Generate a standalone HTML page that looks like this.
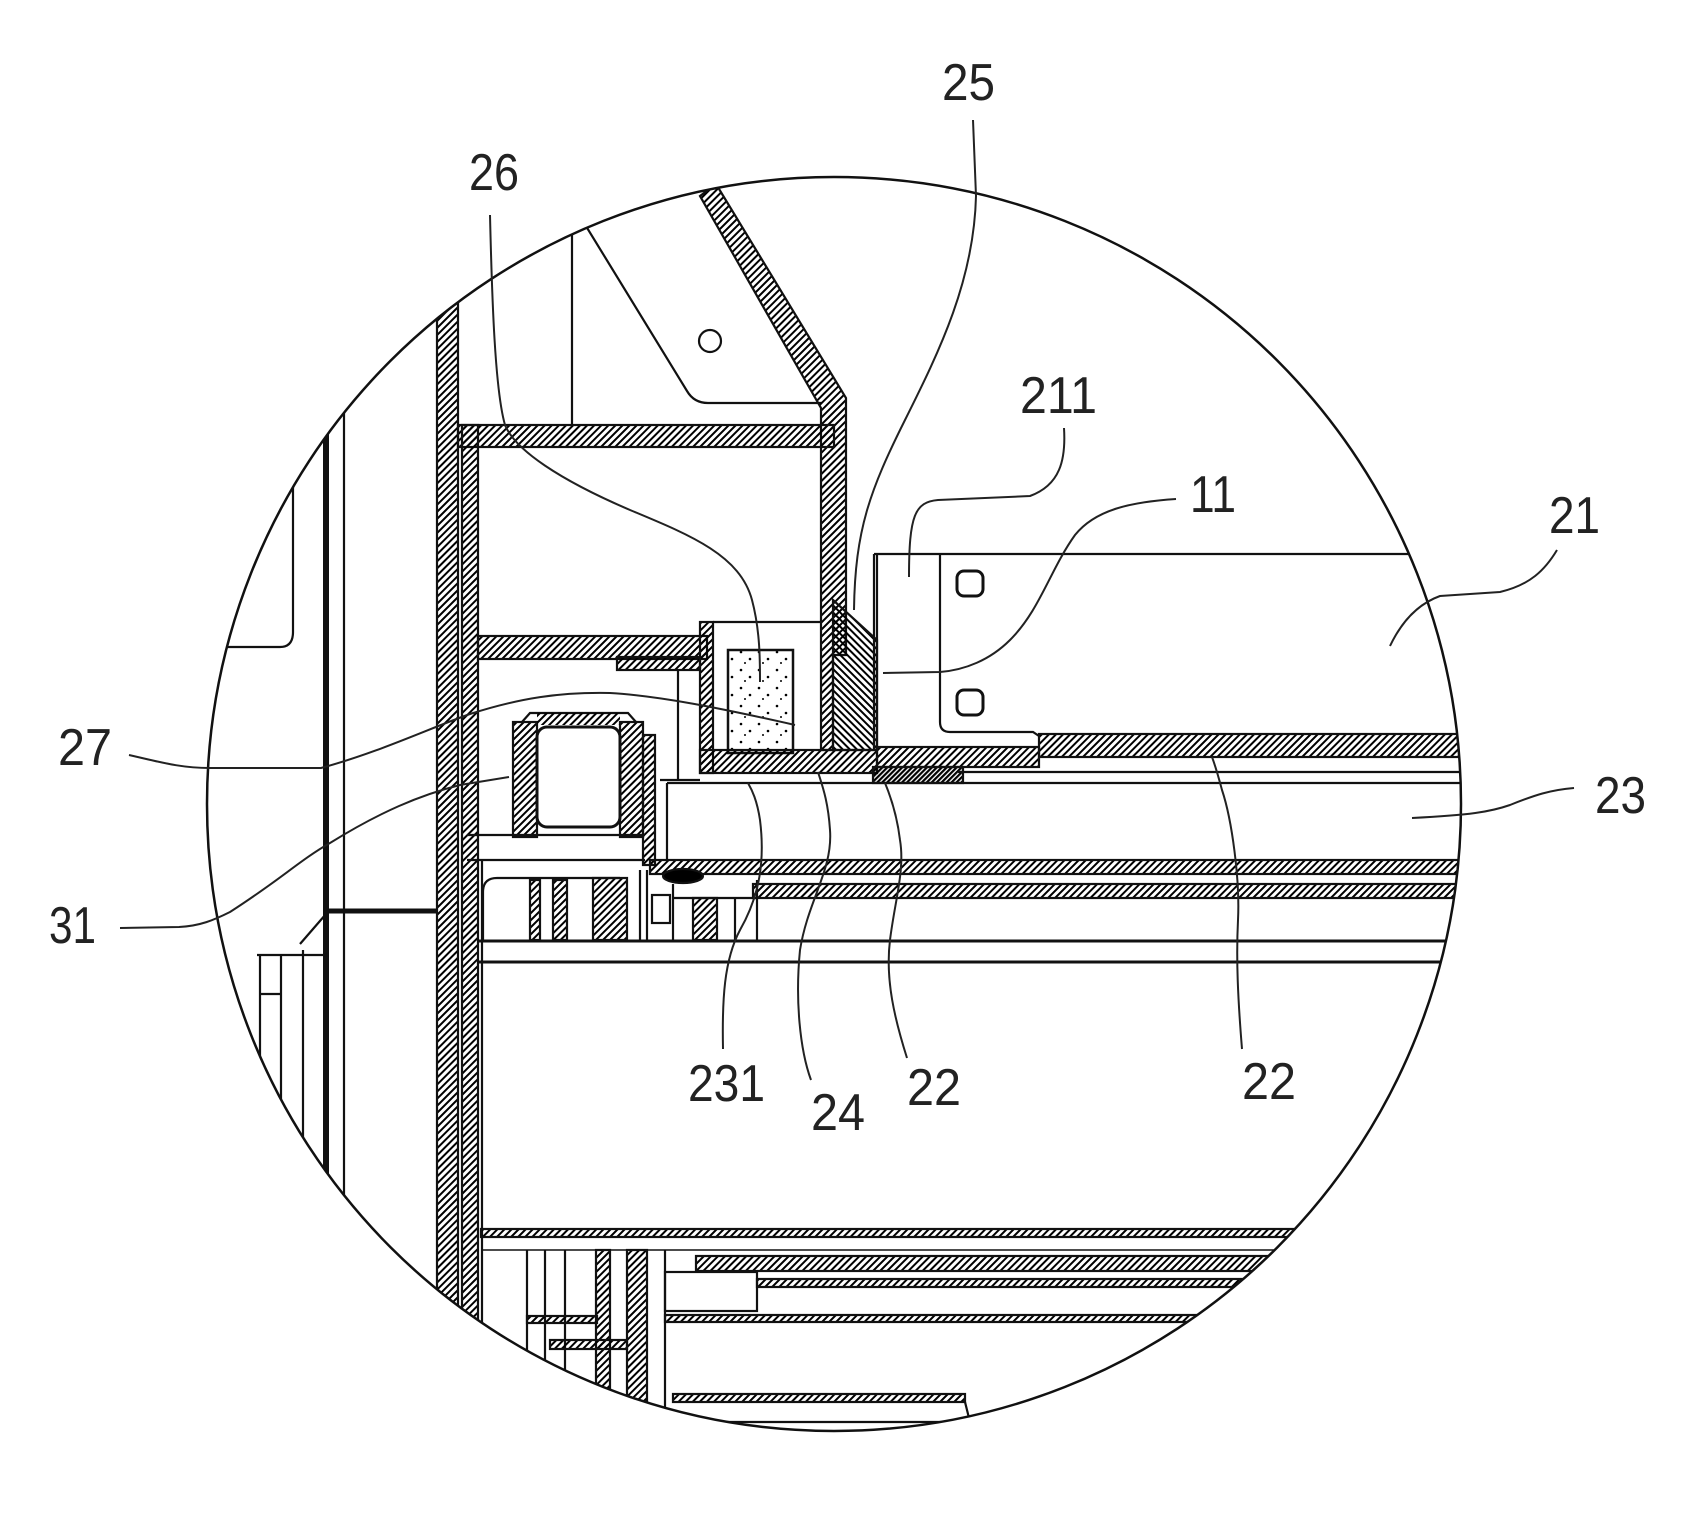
<!DOCTYPE html>
<html>
<head>
<meta charset="utf-8">
<style>
html,body{margin:0;padding:0;background:#fff;}
svg{display:block;}
text{font-family:"Liberation Sans",sans-serif;font-size:52px;fill:#222;}
</style>
</head>
<body>
<svg width="1692" height="1535" viewBox="0 0 1692 1535" xmlns="http://www.w3.org/2000/svg">
<defs>
<pattern id="h" width="5" height="5" patternUnits="userSpaceOnUse" patternTransform="rotate(45)"><rect x="0" y="0" width="2" height="5" fill="#000"/></pattern>
<pattern id="h2" width="5" height="5" patternUnits="userSpaceOnUse" patternTransform="rotate(-45)"><rect x="0" y="0" width="2" height="5" fill="#000"/></pattern>
<pattern id="hd" width="3.5" height="3.5" patternUnits="userSpaceOnUse" patternTransform="rotate(45)"><rect x="0" y="0" width="2.2" height="3.5" fill="#000"/></pattern>
<pattern id="st" width="18" height="18" patternUnits="userSpaceOnUse"><circle cx="3" cy="4" r="1.3" fill="#000"/><circle cx="12" cy="11" r="1.3" fill="#000"/><circle cx="7" cy="15" r="1" fill="#000"/></pattern>
<clipPath id="c"><circle cx="834" cy="804" r="627"/></clipPath>
</defs>

<g clip-path="url(#c)" stroke="#111" stroke-width="2.2" fill="none">
  <!-- upper mounting plate -->
  <path d="M572,180 L572,426"/>
  <path d="M570,200 L687,391 Q694,403 708,403 L822,403"/>
  <circle cx="710" cy="341" r="11"/>
  <!-- diagonal + right box band -->
  <polygon points="700,196 716,184 846,398 846,655 833,655 833,750 821,750 821,408" fill="url(#h)"/>
  <!-- box top band -->
  <rect x="458" y="425" width="376" height="22" fill="url(#h)"/>
  <!-- box bottom band -->
  <rect x="478" y="636" width="229" height="23" fill="url(#h)"/>
  <!-- main vertical band -->
  <rect x="437" y="150" width="21" height="1320" fill="url(#h)"/>
  <!-- thin box-left band -->
  <rect x="462" y="425" width="16" height="1040" fill="url(#h)"/>
  <line x1="482" y1="860" x2="482" y2="1460"/>

  <!-- left side elements -->
  <path d="M293,440 L293,632 Q293,647 280,647 L190,647"/>
  <line x1="326" y1="380" x2="326" y2="1460" stroke-width="6"/>
  <line x1="344" y1="380" x2="344" y2="1460"/>
  <line x1="326" y1="911" x2="437" y2="911" stroke-width="5"/>
  <path d="M300,944 L326,914"/>
  <path d="M257,955 L327,955"/>
  <line x1="260" y1="955" x2="260" y2="1250"/>
  <line x1="281" y1="955" x2="281" y2="1250"/>
  <line x1="303" y1="950" x2="303" y2="1250"/>
  <line x1="260" y1="994" x2="281" y2="994"/>

  <!-- box 26 -->
  <rect x="700" y="622" width="13" height="151" fill="url(#h)"/>
  <path d="M713,622 L821,622"/>
  <rect x="728" y="650" width="65" height="103" fill="url(#st)" stroke-width="2.5"/>
  <!-- 25 wedge -->
  <polygon points="833,600 877,640 877,750 833,750" fill="url(#h2)"/>
  <line x1="877" y1="554" x2="877" y2="750"/>
  <!-- L bracket -->
  <rect x="617" y="657" width="83" height="13" fill="url(#h)"/>
  <line x1="678" y1="670" x2="678" y2="780"/>
  <line x1="660" y1="780" x2="700" y2="780"/>

  <!-- bottom bands of 24/22 -->
  <rect x="700" y="750" width="177" height="23" fill="url(#h)"/>
  <rect x="877" y="747" width="162" height="20" fill="url(#h)"/>
  <rect x="873" y="767" width="90" height="16" fill="url(#hd)"/>
  <rect x="1039" y="734" width="440" height="23" fill="url(#h)"/>
  <line x1="958" y1="772" x2="1480" y2="772"/>

  <!-- 211 / 21 bracket -->
  <line x1="874" y1="554" x2="1480" y2="554"/>
  <line x1="874" y1="554" x2="874" y2="750"/>
  <path d="M940,554 L940,722 Q940,732 950,732 L1033,732 L1039,736"/>
  <rect x="957" y="571" width="26" height="25" rx="7" stroke-width="3"/>
  <rect x="957" y="690" width="26" height="25" rx="7" stroke-width="3"/>

  <!-- pipe 27 -->
  <rect x="513" y="722" width="24" height="115" fill="url(#h)"/>
  <rect x="620" y="722" width="23" height="115" fill="url(#h)"/>
  <path d="M522,722 L530,713 L628,713 L636,722" />
  <rect x="537" y="713" width="83" height="12" fill="url(#h)" stroke="none"/>
  <rect x="537" y="727" width="83" height="100" rx="10" stroke-width="3"/>
  <rect x="643" y="735" width="12" height="130" fill="url(#h)"/>
  <line x1="467" y1="835" x2="645" y2="835"/>
  <line x1="467" y1="860" x2="645" y2="860"/>

  <!-- shaft 23 -->
  <line x1="667" y1="783" x2="1480" y2="783"/>
  <line x1="667" y1="783" x2="667" y2="860"/>
  <rect x="650" y="860" width="830" height="14" fill="url(#h)"/>
  <rect x="753" y="884" width="727" height="14" fill="url(#h)"/>
  <ellipse cx="683" cy="876" rx="20" ry="7" fill="#000"/>
  <line x1="477" y1="941" x2="1480" y2="941" stroke-width="3"/>
  <line x1="477" y1="962" x2="1480" y2="962" stroke-width="3"/>

  <!-- region under pipe -->
  <path d="M483,940 L483,892 Q483,878 497,878 L620,878"/>
  <rect x="530" y="880" width="10" height="60" fill="url(#h)"/>
  <rect x="553" y="880" width="14" height="60" fill="url(#h)"/>
  <rect x="593" y="878" width="34" height="62" fill="url(#h)"/>
  <line x1="640" y1="870" x2="640" y2="940"/>
  <line x1="647" y1="870" x2="647" y2="940"/>
  <rect x="652" y="895" width="18" height="28"/>
  <line x1="673" y1="884" x2="673" y2="940"/>
  <rect x="693" y="898" width="24" height="42" fill="url(#h)"/>
  <line x1="735" y1="898" x2="735" y2="940"/>
  <line x1="757" y1="880" x2="757" y2="940"/>
  <line x1="673" y1="898" x2="757" y2="898"/>

  <!-- bottom section -->
  <rect x="481" y="1229" width="840" height="8" fill="url(#h)"/>
  <line x1="481" y1="1250" x2="1320" y2="1250" stroke-width="1.6"/>
  <rect x="696" y="1256" width="580" height="15" fill="url(#h)"/>
  <rect x="757" y="1279" width="500" height="8" fill="url(#h)"/>
  <rect x="665" y="1272" width="92" height="39"/>
  <rect x="665" y="1315" width="540" height="7" fill="url(#h)"/>
  <rect x="673" y="1394" width="292" height="8" fill="url(#h)"/>
  <path d="M965,1402 L970,1422 L673,1422"/>
  <line x1="527" y1="1250" x2="527" y2="1460"/>
  <line x1="545" y1="1250" x2="545" y2="1460"/>
  <line x1="565" y1="1250" x2="565" y2="1460"/>
  <rect x="596" y="1250" width="14" height="220" fill="url(#h)"/>
  <rect x="627" y="1250" width="20" height="220" fill="url(#h)"/>
  <line x1="665" y1="1250" x2="665" y2="1460"/>
  <rect x="527" y="1316" width="70" height="7" fill="url(#h)"/>
  <rect x="550" y="1340" width="77" height="9" fill="url(#h)"/>
</g>

<!-- outer circle -->
<circle cx="834" cy="804" r="627" fill="none" stroke="#111" stroke-width="2.5"/>

<!-- leader lines -->
<g stroke="#222" stroke-width="2" fill="none">
  <path d="M973,120 L976,196 C974,280 940,350 905,420 C870,490 855,530 854,610"/>
  <path d="M490,215 C492,300 495,390 505,425 C515,450 560,480 630,510 C690,535 740,555 752,600 C760,630 760,660 760,682"/>
  <path d="M1064,428 C1066,460 1060,485 1030,496 L938,500 C915,502 909,515 909,577"/>
  <path d="M1176,499 C1130,502 1095,510 1075,535 C1050,570 1040,610 1010,640 C990,660 965,670 940,672 L883,673"/>
  <path d="M1557,550 C1545,570 1530,585 1500,592 L1440,596 C1415,605 1400,625 1390,646"/>
  <path d="M1574,788 C1550,790 1535,795 1510,805 C1490,812 1470,815 1412,818"/>
  <path d="M129,755 C160,762 180,768 210,768 L321,768 C380,752 430,728 470,714 C520,698 560,692 610,693 C660,696 720,708 795,725"/>
  <path d="M120,928 L179,927 C200,926 214,920 230,912 C280,880 300,860 330,843 C380,812 420,795 460,785 L509,777"/>
  <path d="M723,1049 C722,1000 724,960 740,930 C760,895 765,860 760,820 C757,800 752,790 748,783"/>
  <path d="M811,1080 C800,1050 795,1000 800,950 C808,900 833,870 830,830 C828,800 822,785 818,772"/>
  <path d="M907,1058 C895,1020 885,980 890,940 C895,900 905,870 900,840 C897,815 890,795 885,783"/>
  <path d="M1242,1049 C1238,1000 1236,960 1238,920 C1240,880 1232,820 1222,790 C1218,775 1215,765 1212,757"/>
</g>

<!-- labels -->
<text x="942" y="100" textLength="53" lengthAdjust="spacingAndGlyphs">25</text>
<text x="469" y="190" textLength="50" lengthAdjust="spacingAndGlyphs">26</text>
<text x="1020" y="413" textLength="77" lengthAdjust="spacingAndGlyphs">211</text>
<text x="1190" y="512" textLength="46" lengthAdjust="spacingAndGlyphs">11</text>
<text x="1549" y="533" textLength="51" lengthAdjust="spacingAndGlyphs">21</text>
<text x="58" y="765" textLength="54" lengthAdjust="spacingAndGlyphs">27</text>
<text x="1595" y="813" textLength="51" lengthAdjust="spacingAndGlyphs">23</text>
<text x="49" y="943" textLength="47" lengthAdjust="spacingAndGlyphs">31</text>
<text x="688" y="1101" textLength="77" lengthAdjust="spacingAndGlyphs">231</text>
<text x="811" y="1130" textLength="54" lengthAdjust="spacingAndGlyphs">24</text>
<text x="907" y="1105" textLength="54" lengthAdjust="spacingAndGlyphs">22</text>
<text x="1242" y="1099" textLength="54" lengthAdjust="spacingAndGlyphs">22</text>
</svg>
</body>
</html>
